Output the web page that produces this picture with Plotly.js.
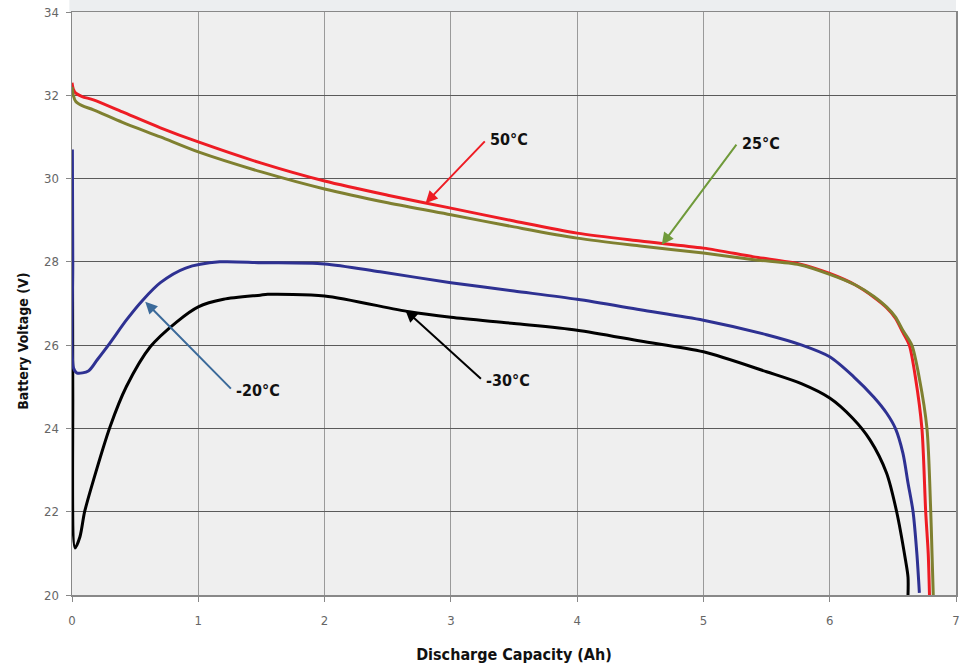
<!DOCTYPE html>
<html>
<head>
<meta charset="utf-8">
<script src="https://cdn.plot.ly/plotly-3.0.1.min.js"></script>
<style>html,body{margin:0;padding:0;background:#fff}#chart{width:971px;height:669px}</style>
</head>
<body>
<div id="chart"></div>
<script>
// ---- data ----
const x50 = [0, 0.01, 0.03, 0.08, 0.17, 0.4, 0.7, 1.0, 1.5, 2.0, 2.5, 3.0, 3.5, 4.0, 4.5, 5.0, 5.4, 5.76, 6.0, 6.2, 6.35, 6.45, 6.52, 6.58, 6.63, 6.68, 6.73, 6.76, 6.78, 6.79];
const v50 = [32.3, 32.15, 32.05, 31.97, 31.89, 31.6, 31.22, 30.88, 30.37, 29.94, 29.6, 29.29, 28.98, 28.69, 28.5, 28.33, 28.12, 27.95, 27.72, 27.45, 27.15, 26.9, 26.65, 26.3, 26.0, 25.2, 24.0, 22.0, 21.0, 20.0];

const x25 = [0, 0.01, 0.03, 0.08, 0.17, 0.4, 0.7, 1.0, 1.5, 2.0, 2.5, 3.0, 3.5, 4.0, 4.5, 5.0, 5.4, 5.76, 6.0, 6.2, 6.35, 6.45, 6.52, 6.58, 6.65, 6.71, 6.77, 6.80, 6.81, 6.82];
const v25 = [32.2, 32.0, 31.85, 31.75, 31.65, 31.35, 31.0, 30.64, 30.16, 29.75, 29.42, 29.13, 28.84, 28.57, 28.38, 28.21, 28.05, 27.93, 27.7, 27.45, 27.17, 26.92, 26.68, 26.35, 26.0, 25.2, 24.0, 22.0, 21.0, 20.0];

const xm20 = [0.003, 0.006, 0.012, 0.04, 0.13, 0.2, 0.3, 0.43, 0.56, 0.7, 0.9, 1.17, 1.5, 2.0, 2.44, 3.0, 3.5, 4.0, 4.5, 5.0, 5.5, 5.78, 6.0, 6.19, 6.35, 6.45, 6.52, 6.58, 6.62, 6.66, 6.69, 6.71];
const vm20 = [30.7, 28.0, 25.45, 25.33, 25.38, 25.65, 26.05, 26.6, 27.08, 27.5, 27.85, 28.0, 27.98, 27.95, 27.76, 27.5, 27.3, 27.1, 26.85, 26.6, 26.25, 26.0, 25.72, 25.24, 24.75, 24.37, 24.0, 23.4, 22.69, 22.0, 21.0, 20.05];

const xm30 = [0.003, 0.006, 0.024, 0.063, 0.1, 0.17, 0.3, 0.43, 0.62, 0.83, 1.0, 1.2, 1.49, 1.55, 2.0, 2.67, 3.0, 3.5, 4.0, 4.5, 5.0, 5.5, 5.78, 6.0, 6.18, 6.32, 6.45, 6.53, 6.6, 6.62, 6.62];
const vm30 = [29.8, 25.0, 21.13, 21.4, 22.0, 22.76, 24.03, 25.0, 25.96, 26.56, 26.92, 27.1, 27.2, 27.22, 27.18, 26.8, 26.67, 26.52, 26.36, 26.1, 25.84, 25.36, 25.07, 24.73, 24.25, 23.72, 22.93, 22.0, 20.84, 20.43, 20.0];

const labels   = ['50°C', '25°C', '-20°C', '-30°C'];
const tipX     = [2.80, 4.67, 0.58, 2.64];
const tipV     = [29.41, 28.41, 27.04, 26.84];
const tailX    = [3.28, 5.27, 1.27, 3.25];
const tailV    = [30.93, 30.85, 24.92, 25.16];
const arrowCol = ['#ee1c24', '#6f9a3a', '#3b6a9a', '#000000'];

const xTicks = [0, 1, 2, 3, 4, 5, 6, 7];
const yTicks = [20, 22, 24, 26, 28, 30, 32, 34];

// ---- traces ----
const mk = (x, y, c) => ({x, y, type: 'scatter', mode: 'lines', line: {color: c, width: 3, shape: 'spline', smoothing: 0.8}, hoverinfo: 'skip', showlegend: false});
const traces = [
  mk(xm30, vm30, '#000000'),
  mk(xm20, vm20, '#2e3192'),
  mk(x50, v50, '#ee1c24'),
  mk(x25, v25, '#7f8030')
];

const condensed = '"DejaVu Sans Condensed", "Liberation Sans Narrow", sans-serif';

const anns = [];
for (let i = 0; i < labels.length; i++) {
  anns.push({x: tipX[i], y: tipV[i], xref: 'x', yref: 'y', ax: tailX[i], ay: tailV[i], axref: 'x', ayref: 'y',
    text: '', showarrow: true, arrowhead: 2, arrowsize: 1.2, arrowwidth: 2, arrowcolor: arrowCol[i]});
  anns.push({x: tailX[i], y: tailV[i], xref: 'x', yref: 'y', text: '<b>' + labels[i] + '</b>', showarrow: false,
    xanchor: 'left', yanchor: 'middle', xshift: 2,
    font: {family: condensed, size: 16, color: '#111'}});
}
// y axis title (placed like the reference, below the plot's middle)
anns.push({xref: 'paper', yref: 'paper', x: -0.055, y: 0.435, xanchor: 'center', yanchor: 'middle',
  text: '<b>Battery Voltage (V)</b>', textangle: -90, showarrow: false,
  font: {family: condensed, size: 14, color: '#111'}});

const tickFont = {family: condensed, size: 13, color: '#666'};

const layout = {
  width: 971, height: 669,
  margin: {l: 72, r: 15, t: 12, b: 74},
  paper_bgcolor: '#ffffff',
  plot_bgcolor: '#efefef',
  xaxis: {
    range: [0, 7], tickvals: xTicks, ticktext: xTicks.map(String),
    showgrid: true, gridcolor: '#9a9a9a', gridwidth: 1, zeroline: false,
    showline: true, linecolor: '#888', linewidth: 1.5, mirror: true,
    ticks: 'outside', ticklen: 5, tickcolor: '#888', ticklabelstandoff: 8,
    tickfont: tickFont,
    title: {text: '<b>Discharge Capacity (Ah)</b>', font: {family: condensed, size: 16, color: '#111'}, standoff: 21}
  },
  yaxis: {
    range: [20, 34], tickvals: yTicks, ticktext: yTicks.map(String),
    showgrid: true, gridcolor: '#5a5a5a', gridwidth: 1, zeroline: false,
    showline: true, linecolor: '#888', linewidth: 1.5, mirror: true,
    ticks: 'outside', ticklen: 5, tickcolor: '#888', ticklabelstandoff: 4,
    tickfont: tickFont
  },
  annotations: anns,
  shapes: [
    {type: 'rect', xref: 'paper', yref: 'paper', x0: -0.003, x1: 1.0, y0: 1.0, y1: 1.025, fillcolor: '#eceef0', line: {width: 0}, layer: 'below'}
  ]
};

Plotly.newPlot('chart', traces, layout, {displayModeBar: false, staticPlot: true});
</script>
</body>
</html>
